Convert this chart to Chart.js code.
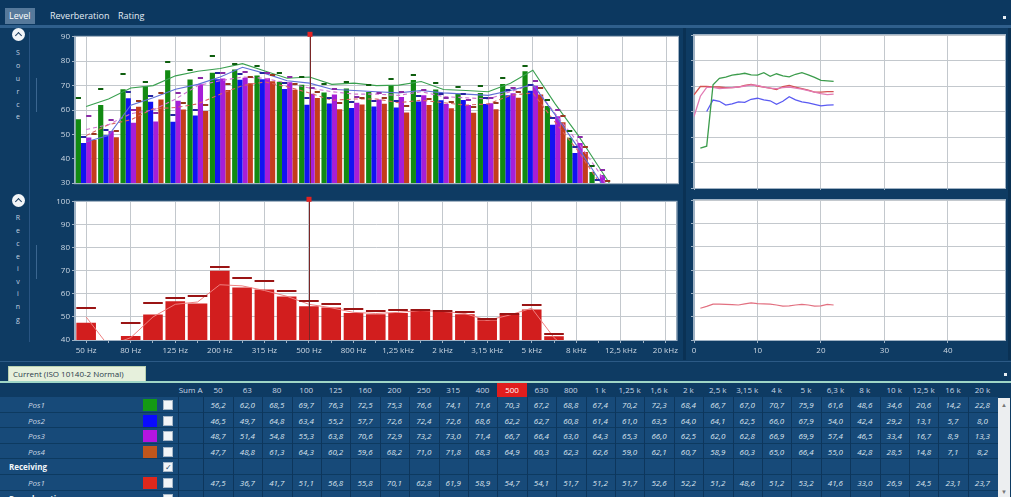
<!DOCTYPE html>
<html lang="en">
<head>
<meta charset="utf-8">
<title>Level</title>
<script src="https://cdn.jsdelivr.net/npm/chart.js@4.4.1/dist/chart.umd.min.js"></script>
<style>
  html, body { margin:0; padding:0; }
  body { width:1011px; height:497px; overflow:hidden; position:relative; background:#0e3b63;
         font-family:'Open Sans','Noto Sans',sans-serif; }
  .a { position:absolute; }
  canvas { position:absolute; }
  .tab { position:absolute; top:8px; height:16px; font-size:9px; line-height:16px; color:#e4ecf4; padding:0 4px; }
  .vl { position:absolute; left:13px; width:10px; height:10px; line-height:10px; text-align:center; font-size:7px; color:#c3d2e2; }
  .btn { position:absolute; width:13px; height:13px; border-radius:50%; background:#f2f5f8; }
  .btn::after { content:''; position:absolute; left:4px; top:5px; width:4px; height:4px;
                border-left:1.5px solid #1d3f60; border-top:1.5px solid #1d3f60; transform:rotate(45deg); }
  .cell { position:absolute; font-size:8px; text-align:center; color:#dbe4ee; white-space:nowrap; overflow:hidden; }
  .val { font-style:italic; }
  .hd { color:#c9d7e6; }
</style>
</head>
<body>

<!-- tab strip -->
<div class="a" style="left:0;top:0;width:1011px;height:25px;background:#0c3860;"></div>
<div class="tab" style="left:5px;background:#56799b;color:#fff;">Level</div>
<div class="tab" style="left:46px;">Reverberation</div>
<div class="tab" style="left:114px;">Rating</div>
<div class="a" style="left:1003px;top:16px;width:3px;height:3px;background:#e8eef4;"></div>
<div class="a" style="left:0;top:25px;width:1011px;height:3px;background:#2f5f8c;"></div>

<!-- left rail -->
<div class="btn" style="left:12px;top:28px;"></div>
<div class="btn" style="left:12px;top:194px;"></div>
<div class="a" style="left:29px;top:32px;width:1px;height:310px;background:#285482;"></div>
<div class="a" style="left:36px;top:78px;width:1px;height:34px;background:#3b6690;"></div>
<div class="a" style="left:36px;top:245px;width:1px;height:34px;background:#3b6690;"></div>
<div id="rail"></div>

<!-- divider between level and time panels -->
<div class="a" style="left:683px;top:28px;width:3px;height:332px;background:#0a3154;"></div>
<div class="a" style="left:1008px;top:28px;width:3px;height:332px;background:#0a3154;"></div>

<canvas id="srcBands" width="641" height="160" style="left:40px;top:30px;"></canvas>
<canvas id="recBands" width="641" height="165" style="left:40px;top:195px;"></canvas>
<canvas id="srcTime" width="322" height="160" style="left:686px;top:30px;"></canvas>
<canvas id="recTime" width="322" height="165" style="left:686px;top:195px;"></canvas>

<!-- result table -->
<div class="a" style="left:0;top:361px;width:1011px;height:1px;background:#2c5a86;"></div>
<div class="a" style="left:8px;top:366px;width:138px;height:15px;background:#e6f0dc;border:1px solid #b8d0b0;border-bottom:none;box-sizing:border-box;font-size:8px;line-height:14px;color:#2a3a4a;padding-left:4px;">Current (ISO 10140-2 Normal)</div>
<div class="a" style="left:1004px;top:373px;width:3px;height:3px;background:#e8eef4;"></div>
<div class="a" style="left:0;top:381px;width:1011px;height:2px;background:#9fd6c6;"></div>
<div id="tbl"></div>
<div class="a" style="left:998px;top:398px;width:12px;height:99px;background:#eceef0;"></div>
<div class="a" style="left:1001px;top:401px;font-size:6px;color:#777;">&#9650;</div>
<div class="a" style="left:1001px;top:488px;font-size:6px;color:#777;">&#9660;</div>

<script>
// ---- frequency bands (1/3 octave) ----
const bandLabels = ['50 Hz','63 Hz','80 Hz','100 Hz','125 Hz','160 Hz','200 Hz','250 Hz','315 Hz','400 Hz',
  '500 Hz','630 Hz','800 Hz','1 kHz','1,25 kHz','1,6 kHz','2 kHz','2,5 kHz','3,15 kHz','4 kHz',
  '5 kHz','6,3 kHz','8 kHz','10 kHz','12,5 kHz','16 kHz','20 kHz'];
const bandHeads = ['50','63','80','100','125','160','200','250','315','400','500','630','800',
  '1 k','1,25 k','1,6 k','2 k','2,5 k','3,15 k','4 k','5 k','6,3 k','8 k','10 k','12,5 k','16 k','20 k'];
const cursorBand = 10; // 500 Hz

// ---- source room levels, dB ----
const srcPos1 = [56.2, 62.0, 68.5, 69.7, 76.3, 72.5, 75.3, 76.6, 74.1, 71.6, 70.3, 67.2, 68.8, 67.4,
  70.2, 72.3, 68.4, 66.7, 67.0, 70.7, 75.9, 61.6, 48.6, 34.6, 20.6, 14.2, 22.8];
const srcPos2 = [46.5, 49.7, 64.8, 63.4, 55.2, 57.7, 72.6, 72.4, 72.6, 68.6, 62.2, 62.7, 60.8, 61.4,
  61.0, 63.5, 64.0, 64.1, 62.5, 66.0, 67.9, 54.0, 42.4, 29.2, 13.1, 5.7, 8.0];
const srcPos3 = [48.7, 51.4, 54.8, 55.3, 63.8, 70.6, 72.9, 73.2, 73.0, 71.4, 66.7, 66.4, 63.0, 64.3,
  65.3, 66.0, 62.5, 62.0, 62.8, 66.9, 69.9, 57.4, 46.5, 33.4, 16.7, 8.9, 13.3];
const srcPos4 = [47.7, 48.8, 61.3, 64.3, 60.2, 59.6, 68.2, 71.0, 71.8, 68.3, 64.9, 60.3, 62.3, 62.6,
  59.0, 62.1, 60.7, 58.9, 60.3, 65.0, 66.4, 55.0, 42.8, 28.5, 14.8, 7.1, 8.2];

// peak markers
const srcMax1 = [65.0, 68.5, 74.6, 71.4, 79.8, 76.4, 82.1, 78.9, 78.2, 75.1, 73.4, 70.8, 71.5, 70.2,
  72.6, 74.4, 71.1, 69.4, 69.8, 73.1, 78.0, 64.0, 51.2, 37.0, 22.8, 16.0, 24.5];
const srcMax2 = [49.0, 52.0, 67.2, 65.9, 58.0, 60.2, 75.1, 74.8, 75.0, 71.0, 64.8, 65.1, 63.2, 63.8,
  63.5, 65.8, 66.4, 66.5, 64.9, 68.4, 70.3, 56.6, 44.8, 31.5, 15.0, 7.5, 10.0];
const srcMax3 = [57.5, 56.0, 60.2, 58.8, 66.9, 73.2, 75.0, 75.4, 75.2, 73.5, 68.9, 68.6, 65.4, 66.8,
  67.5, 68.2, 65.0, 64.3, 65.1, 69.0, 72.0, 60.0, 48.8, 35.6, 18.5, 10.2, 15.0];
const srcMax4 = [50.0, 51.2, 63.8, 66.8, 62.9, 62.0, 70.6, 73.4, 74.2, 70.8, 67.5, 62.7, 64.8, 65.0,
  61.5, 64.6, 63.1, 61.4, 62.8, 67.4, 69.2, 57.4, 45.0, 30.8, 16.9, 9.0, 10.1];

// energy-average curves
const srcAvg1 = [61.4, 64.5, 69.0, 70.0, 74.0, 75.9, 77.0, 79.0, 76.0, 73.0, 73.5, 70.5, 71.0, 70.0,
  70.2, 71.7, 68.4, 68.0, 67.5, 71.0, 76.3, 62.5, 50.0, 36.0, 22.0, 15.5, 23.5];
const srcAvg2 = [47.0, 49.5, 62.0, 65.0, 68.5, 70.5, 73.5, 77.5, 75.0, 72.0, 71.0, 68.5, 68.0, 67.5,
  67.0, 68.0, 67.0, 66.5, 66.0, 68.0, 70.5, 58.0, 45.0, 31.0, 15.0, 7.0, 9.5];
const srcAvg3 = [52.0, 54.0, 58.5, 60.0, 64.5, 70.0, 72.0, 73.5, 73.0, 71.0, 69.0, 67.5, 66.5, 66.5,
  66.0, 67.5, 65.5, 65.0, 64.5, 67.5, 70.5, 58.5, 47.0, 34.0, 17.5, 9.5, 14.0];
const srcAvg4 = [49.5, 54.0, 56.0, 60.5, 61.0, 62.5, 66.5, 70.0, 71.5, 69.5, 67.0, 64.0, 64.5, 64.5,
  63.0, 64.0, 63.0, 62.0, 62.5, 66.0, 67.0, 55.0, 43.5, 30.0, 15.5, 7.5, 8.5];

// ---- receiving room levels, dB ----
const recPos1 = [47.5, 36.7, 41.7, 51.1, 56.8, 55.8, 70.1, 62.8, 61.9, 58.9, 54.7, 54.1, 51.7, 51.2,
  51.7, 52.6, 52.2, 51.2, 48.6, 51.2, 53.2, 41.6, 33.0, 26.9, 24.5, 23.1, 23.7];
const recMax1 = [54.0, 38.5, 47.3, 56.0, 58.3, 58.9, 71.8, 66.9, 65.5, 61.2, 56.9, 55.7, 53.6, 52.6,
  52.9, 53.0, 52.6, 52.0, 49.3, 51.4, 55.0, 42.5, 34.5, 28.5, 26.0, 24.5, 25.0];
const recAvg1 = [50.0, 37.5, 41.0, 50.0, 55.5, 56.5, 64.0, 63.5, 61.5, 59.0, 55.5, 54.0, 52.0, 51.5,
  52.0, 52.8, 52.4, 51.5, 48.5, 50.8, 53.8, 41.0, 33.0, 27.0, 24.5, 23.0, 23.5];

// ---- level versus time, s ----
const srcTimes = [0, 1, 2, 3, 4, 5, 6, 7, 8, 9, 10, 11, 12, 13, 14, 15, 16, 17, 18, 19, 20, 21, 22];
const srcTime1 = [null, 45.6, 46.4, 70.5, 73.0, 73.5, 74.3, 74.6, 75.0, 74.4, 74.3, 75.2, 73.8, 74.8,
  74.0, 73.6, 74.6, 75.2, 74.4, 73.4, 72.2, 72.0, 71.8];
const srcTime2 = [null, null, 60.0, 64.5, 64.0, 62.5, 63.0, 63.8, 63.6, 64.8, 65.2, 64.6, 64.2, 62.8,
  64.0, 65.8, 64.6, 63.8, 63.4, 62.8, 62.2, 62.5, 62.6];
const srcTime3 = [58.0, 66.0, 69.5, 69.5, 69.0, 69.2, 69.4, 69.6, 70.0, 70.4, 70.2, 69.6, 69.2, 69.0,
  69.4, 69.6, 69.2, 68.8, 68.2, 67.6, 67.0, 66.6, 66.8];
const srcTime4 = [66.5, 69.8, 69.8, 69.6, 69.6, 69.4, 69.4, 69.6, 70.2, 70.6, 70.0, 69.6, 69.2, 68.6,
  69.8, 70.2, 69.6, 69.0, 68.4, 67.6, 67.6, 67.8, 67.8];
const recTimes = [1, 2, 3, 4, 5, 6, 7, 8, 9, 10, 11, 12, 13, 14, 15, 16, 17, 18, 19, 20, 21, 22];
const recTime1 = [53.6, 54.4, 55.4, 55.4, 55.3, 55.2, 55.0, 55.5, 55.9, 55.6, 55.5, 55.4, 55.0, 54.5,
  54.6, 55.0, 55.3, 55.0, 54.5, 54.6, 55.3, 55.0];

// ---- colours ----
const C_POS1 = '#128a12', C_POS2 = '#1212f2', C_POS3 = '#a61ed8', C_POS4 = '#c43c1c', C_REC = '#d21e1e';
const GRID = '#c3c8cd', FRAME = '#9fb2c4', TICK_TXT = '#cdd8e4';

Chart.defaults.font.family = "'Open Sans','Noto Sans',sans-serif";
Chart.defaults.font.size = 8;

// white plot area + frame
const plotFrame = {
  id: 'plotFrame',
  beforeDraw(chart) {
    const { ctx, chartArea: a } = chart;
    ctx.save();
    ctx.fillStyle = '#ffffff';
    ctx.fillRect(a.left, a.top, a.right - a.left, a.bottom - a.top);
    ctx.restore();
  },
  afterDraw(chart) {
    const { ctx, chartArea: a } = chart;
    ctx.save();
    ctx.strokeStyle = FRAME;
    ctx.lineWidth = 1;
    ctx.strokeRect(a.left - 0.5, a.top - 0.5, a.right - a.left + 1, a.bottom - a.top + 1);
    ctx.restore();
  }
};

// short dashes marking the peak level above each bar
const peakMarks = {
  id: 'peakMarks',
  afterDatasetsDraw(chart) {
    const { ctx, chartArea: a, scales } = chart;
    ctx.save();
    ctx.beginPath();
    ctx.rect(a.left, a.top, a.right - a.left, a.bottom - a.top);
    ctx.clip();
    chart.data.datasets.forEach((ds, i) => {
      if (!ds.peaks) return;
      const meta = chart.getDatasetMeta(i);
      ctx.strokeStyle = ds.peakColor;
      ctx.lineWidth = 2;
      meta.data.forEach((el, j) => {
        const v = ds.peaks[j];
        if (v == null) return;
        const py = Math.round(scales.y.getPixelForValue(v));
        const w = Math.max(el.width, 4);
        ctx.beginPath();
        ctx.moveTo(el.x - w / 2, py);
        ctx.lineTo(el.x + w / 2, py);
        ctx.stroke();
      });
    });
    ctx.restore();
  }
};

// selected-band cursor
const bandCursor = {
  id: 'bandCursor',
  afterDraw(chart) {
    const { ctx, chartArea: a, scales } = chart;
    const x = Math.round(scales.x.getPixelForValue(cursorBand)) + 0.5;
    ctx.save();
    ctx.strokeStyle = '#7a2626';
    ctx.lineWidth = 1;
    ctx.beginPath();
    ctx.moveTo(x, a.top - 3);
    ctx.lineTo(x, a.bottom);
    ctx.stroke();
    ctx.fillStyle = '#e42222';
    ctx.fillRect(x - 3, a.top - 5, 5, 5);
    ctx.restore();
  }
};

function bandX(showLabels, height) {
  return {
    type: 'category',
    offset: true,
    grid: { offset: false, color: c => (c.index % 2 === 0 ? GRID : 'rgba(0,0,0,0)'),
            drawTicks: showLabels, tickLength: 3, tickColor: FRAME },
    border: { display: false },
    ticks: {
      display: showLabels, autoSkip: false, maxRotation: 0, minRotation: 0, padding: 3,
      color: TICK_TXT, font: { size: 8 },
      callback(v, i) { return i % 2 === 0 ? this.getLabelForValue(v) : ''; }
    },
    afterFit(s) { s.height = height; }
  };
}

function levelY(min, max, width, showLabels) {
  return {
    min, max,
    grid: { color: GRID, tickColor: FRAME, tickLength: 3, drawTicks: true },
    border: { color: FRAME },
    ticks: { display: showLabels, stepSize: 10, color: TICK_TXT, padding: 2, font: { size: 8 } },
    afterFit(s) { s.width = width; }
  };
}

const base = {
  responsive: false,
  animation: false,
  devicePixelRatio: 1,
  plugins: { legend: { display: false }, tooltip: { enabled: false } },
};

function barSet(data, color, peaks, peakColor, catPct, barPct) {
  return { type: 'bar', data, backgroundColor: color, borderWidth: 0, order: 2,
           categoryPercentage: catPct, barPercentage: barPct, peaks, peakColor };
}
function lineSet(data, color, dash, width) {
  return { type: 'line', data, borderColor: color, borderWidth: width || 1.1, borderDash: dash || [],
           pointRadius: 0, fill: false, tension: 0, order: 1 };
}

// source room spectrum
new Chart(document.getElementById('srcBands'), {
  type: 'bar',
  data: {
    labels: bandLabels,
    datasets: [
      barSet(srcPos1, C_POS1, srcMax1, '#0e5e0e', 0.93, 1),
      barSet(srcPos2, C_POS2, srcMax2, '#2424a0', 0.93, 1),
      barSet(srcPos3, C_POS3, srcMax3, '#8a2aa6', 0.93, 1),
      barSet(srcPos4, C_POS4, srcMax4, '#96381e', 0.93, 1),
      lineSet(srcAvg1, '#3aa050'),
      lineSet(srcAvg2, '#6070d8'),
      lineSet(srcAvg3, '#d070d0', [4, 3]),
      lineSet(srcAvg4, '#d86060', [4, 3]),
    ]
  },
  options: { ...base,
    layout: { padding: { top: 5, right: 3, left: 0, bottom: 0 } },
    scales: { x: bandX(false, 2), y: levelY(30, 90, 35, true) }
  },
  plugins: [plotFrame, peakMarks, bandCursor]
});

// receiving room spectrum
new Chart(document.getElementById('recBands'), {
  type: 'bar',
  data: {
    labels: bandLabels,
    datasets: [
      barSet(recPos1, C_REC, recMax1, '#9a1414', 1.0, 0.88),
      lineSet(recAvg1, '#ee8080', [], 1),
    ]
  },
  options: { ...base,
    layout: { padding: { top: 5, right: 3, left: 0, bottom: 0 } },
    scales: { x: bandX(true, 20), y: levelY(40, 100, 35, true) }
  },
  plugins: [plotFrame, peakMarks, bandCursor]
});

function timeX(showLabels, height) {
  return {
    type: 'linear', min: 0, max: 49,
    grid: { color: GRID, drawTicks: true, tickLength: 3, tickColor: FRAME },
    border: { display: false },
    ticks: { display: showLabels, stepSize: 10, includeBounds: false, color: TICK_TXT, padding: 3,
             font: { size: 8 }, maxRotation: 0 },
    afterFit(s) { s.height = height; }
  };
}
function pts(xs, ys) { return xs.map((x, i) => ({ x, y: ys[i] })); }

new Chart(document.getElementById('srcTime'), {
  type: 'line',
  data: {
    datasets: [
      lineSet(pts(srcTimes, srcTime1), '#3c9c4c', [], 1.3),
      lineSet(pts(srcTimes, srcTime2), '#5a5af2', [], 1.3),
      lineSet(pts(srcTimes, srcTime3), '#e27ab4', [], 1.3),
      lineSet(pts(srcTimes, srcTime4), '#d45252', [], 1.3),
    ]
  },
  options: { ...base,
    layout: { padding: { top: 5, right: 3, left: 0, bottom: 0 } },
    scales: { x: timeX(false, 2), y: levelY(30, 90, 8, false) }
  },
  plugins: [plotFrame]
});

new Chart(document.getElementById('recTime'), {
  type: 'line',
  data: { datasets: [ lineSet(pts(recTimes, recTime1), '#e27080', [], 1.2) ] },
  options: { ...base,
    layout: { padding: { top: 5, right: 3, left: 0, bottom: 0 } },
    scales: { x: timeX(true, 20), y: levelY(40, 100, 8, false) }
  },
  plugins: [plotFrame]
});

// ---- vertical rail captions ----
const rail = document.getElementById('rail');
function railWord(word, tops) {
  [...word].forEach((ch, i) => {
    const d = document.createElement('div');
    d.className = 'vl';
    d.style.top = (tops[i] - 5) + 'px';
    d.textContent = ch;
    rail.appendChild(d);
  });
}
railWord('Source', [53, 66, 79, 92, 105, 117]);
railWord('Receiving', [218, 231, 244, 257, 269, 282, 294, 307, 320]);

// ---- result table ----
const tbl = document.getElementById('tbl');
const COL0 = 203.3, COLW = 29.4, ROW0 = 397, ROWH = 15.6;
function box(x, y, w, h, css, text, cls) {
  const d = document.createElement('div');
  d.className = cls || 'a';
  d.style.cssText += `left:${x}px;top:${y}px;width:${w}px;height:${h}px;` + (css || '');
  if (text != null) d.textContent = text;
  tbl.appendChild(d);
  return d;
}
const fmt = v => v.toFixed(1).replace('.', ',');

// header
box(178, 383, 25.3, 14, 'line-height:14px;', 'Sum A', 'cell hd');
bandHeads.forEach((h, k) => {
  const hl = k === cursorBand;
  box(COL0 + COLW * k, 383, COLW, 14,
      'line-height:14px;' + (hl ? 'background:#e11d1d;color:#fff;' : ''), h, 'cell hd');
});

const rows = [
  { label: 'Pos1', color: '#149a14', values: srcPos1 },
  { label: 'Pos2', color: '#0a0aff', values: srcPos2 },
  { label: 'Pos3', color: '#b414e0', values: srcPos3 },
  { label: 'Pos4', color: '#c0561c', values: srcPos4 },
  { group: 'Receiving' },
  { label: 'Pos1', color: '#e0281c', values: recPos1 },
  { group: 'Reverberation' },
];
rows.forEach((r, n) => {
  const y = ROW0 + ROWH * n;
  box(0, y, 998, ROWH, 'background:#174a79;border-bottom:1px solid #0d3a60;box-sizing:border-box;');
  box(178, y, 25.3, ROWH, 'border-left:1px solid #0d365c;box-sizing:border-box;');
  bandHeads.forEach((_, k) => box(COL0 + COLW * k, y, COLW, ROWH, 'border-left:1px solid #0d365c;box-sizing:border-box;'));
  const cb = box(163, y + 3, 10, 10, 'background:#f2f5f8;border:1px solid #a8b8c8;box-sizing:border-box;font-size:8px;line-height:8px;text-align:center;color:#2a4a6a;');
  if (r.group) {
    box(9, y, 120, ROWH, `line-height:${ROWH}px;font-weight:bold;text-align:left;color:#f2f6fa;font-style:normal;`, r.group, 'cell');
    cb.textContent = '\u2713';
    return;
  }
  box(28, y, 80, ROWH, `line-height:${ROWH}px;text-align:left;color:#c9d6e4;`, r.label, 'cell val');
  box(143, y + 2, 14, 12, `background:${r.color};`);
  r.values.forEach((v, k) => box(COL0 + COLW * k, y, COLW, ROWH, `line-height:${ROWH}px;`, fmt(v), 'cell val'));
});
</script>
</body>
</html>
